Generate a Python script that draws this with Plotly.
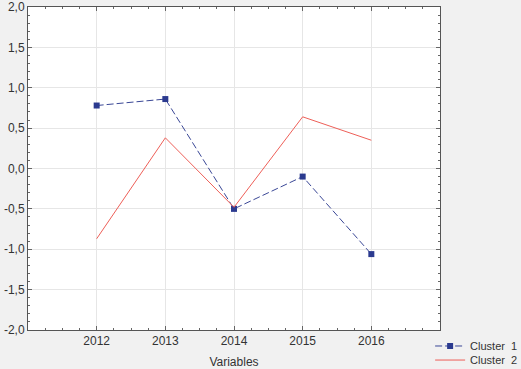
import plotly.graph_objects as go

years = [2012, 2013, 2014, 2015, 2016]
cluster1 = [0.78, 0.86, -0.50, -0.10, -1.06]
cluster2 = [-0.87, 0.38, -0.48, 0.64, 0.35]
ytick_vals = [-2.0, -1.5, -1.0, -0.5, 0.0, 0.5, 1.0, 1.5, 2.0]
ytick_text = ["-2,0", "-1,5", "-1,0", "-0,5", "0,0", "0,5", "1,0", "1,5", "2,0"]
xtick_vals = [2012, 2013, 2014, 2015, 2016]
xtick_text = ["2012", "2013", "2014", "2015", "2016"]

fig = go.Figure()
fig.add_trace(go.Scatter(
    x=years, y=cluster1, name="Cluster  1", mode="lines+markers",
    line=dict(color="#3a4796", width=1, dash="7px,3px"),
    marker=dict(symbol="square", size=6, color="#2b3a8f"),
    legend="legend",
))
fig.add_trace(go.Scatter(
    x=years, y=cluster2, name="Cluster  2", mode="lines",
    line=dict(color="#ee5f58", width=1),
    legend="legend2",
))

axis_common = dict(
    showline=True, linecolor="#555555", linewidth=1, mirror="ticks",
    ticks="inside", ticklen=4, tickcolor="#666666",
    showgrid=True, gridcolor="#e6e6e6", gridwidth=1, zeroline=False,
    automargin=False,
    tickfont=dict(family="Liberation Sans, Arial, sans-serif", size=12, color="#333333"),
)

legend_common = dict(xanchor="left", yanchor="middle", bgcolor="rgba(0,0,0,0)",
                     font=dict(size=11, color="#333333"), itemwidth=30)

fig.update_layout(
    width=521, height=369,
    paper_bgcolor="#f1f1f1", plot_bgcolor="#ffffff",
    margin=dict(l=28, r=81, t=7, b=39, autoexpand=False),
    font=dict(family="Liberation Sans, Arial, sans-serif", size=12, color="#333333"),
    xaxis=dict(range=[2011, 2017], tickvals=xtick_vals, ticktext=xtick_text,
               title=dict(text="Variables", standoff=10, font=dict(size=12)),
               minor=dict(ticks="inside", ticklen=2, dtick=0.25, tick0=2011, tickcolor="#666666", showgrid=False),
               **axis_common),
    yaxis=dict(range=[-2.0, 2.0], tickvals=ytick_vals, ticktext=ytick_text,
               minor=dict(ticks="inside", ticklen=2, dtick=0.1, tick0=0, tickcolor="#666666", showgrid=False),
               **axis_common),
    legend=dict(x=0.976, y=-0.0495, **legend_common),
    legend2=dict(x=0.976, y=-0.093, **legend_common),
    showlegend=True,
)

fig.write_html("out.html", config={"displayModeBar": False},
               post_script="document.body.style.margin='0';document.body.style.overflow='hidden';")
